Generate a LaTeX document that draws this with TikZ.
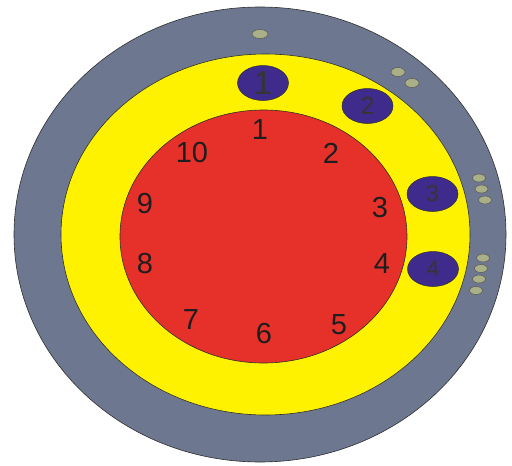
\documentclass[tikz,border=0pt]{standalone}
\usepackage{fontspec}
\setmainfont{Liberation Sans}
\usetikzlibrary{shapes.geometric}
\definecolor{Ring}{HTML}{6D7890}
\definecolor{Band}{HTML}{FFF200}
\definecolor{Core}{HTML}{E6302A}
\definecolor{Slot}{HTML}{3E2B8C}
\definecolor{Pin}{HTML}{A9AF86}
\definecolor{Ink}{HTML}{1E1E1E}
\definecolor{Edge}{HTML}{2E2E2E}
\tikzset{
  disc/.style={draw=Edge,line width=0.6pt},
  slot/.style={ellipse,draw=Edge,line width=0.5pt,fill=Slot,minimum width=51pt,minimum height=35pt,inner sep=0pt,text=Ink!90,font=\fontsize{23}{23}\selectfont},
  pin/.style={ellipse,draw=Edge!80,line width=0.5pt,fill=Pin,minimum width=14pt,minimum height=9pt,inner sep=0pt},
  digit/.style={text=Ink,inner sep=0pt,font=\fontsize{29}{29}\selectfont}
}
\begin{document}
\begin{tikzpicture}[x=1pt,y=-1pt]
  \useasboundingbox (0,0) rectangle (512,466);
  % rings
  \fill[white] (0,0) rectangle (512,466);
  \draw[disc,fill=Ring] (260,234.5) ellipse [x radius=246,y radius=227.5];
  \draw[disc,fill=Band] (265.5,234.5) ellipse [x radius=204.5,y radius=180.5];
  \draw[disc,fill=Core] (263.5,236.5) ellipse [x radius=143.5,y radius=126.5];
  % numbers on the core
  \node[digit] (n1) at (260,130) {1};
  \node[digit] (n2) at (331,153) {2};
  \node[digit] (n3) at (380,208) {3};
  \node[digit] (n4) at (382,264) {4};
  \node[digit] (n5) at (339,325) {5};
  \node[digit] (n6) at (264,334) {6};
  \node[digit] (n7) at (191,320) {7};
  \node[digit] (n8) at (145,264) {8};
  \node[digit] (n9) at (145,204) {9};
  \node[digit] (n10) at (192,153) {10};
  % slots
  \node[slot,font=\fontsize{33}{33}\selectfont] (s1) at (263,83) {1};
  \node[slot,font=\fontsize{25}{25}\selectfont] (s2) at (367.5,106) {2};
  \node[slot] (s3) at (432.5,194) {3};
  \node[slot] (s4) at (433,269) {4};
  % pins
  \node[pin,minimum width=16pt] (p1) at (260,34) {};
  \node[pin] (p2) at (398,72) {};
  \node[pin] (p3) at (412,83) {};
  \node[pin,minimum width=13pt,minimum height=8pt] (p4) at (479,178) {};
  \node[pin,minimum width=13pt,minimum height=8pt] (p5) at (481.5,189) {};
  \node[pin,minimum width=13pt,minimum height=8pt] (p6) at (485,200) {};
  \node[pin,minimum width=13pt,minimum height=8pt] (p7) at (483,258) {};
  \node[pin,minimum width=13pt,minimum height=8pt] (p8) at (481,268.5) {};
  \node[pin,minimum width=13pt,minimum height=8pt] (p9) at (479,279) {};
  \node[pin,minimum width=13pt,minimum height=8pt] (p10) at (476,290.5) {};
\end{tikzpicture}
\end{document}
